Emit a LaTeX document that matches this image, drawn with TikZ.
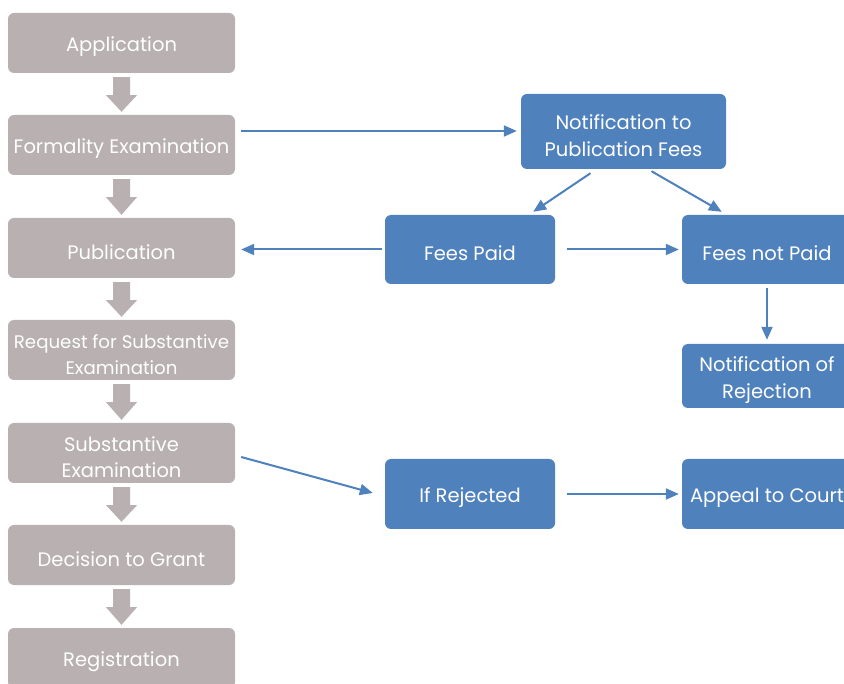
\documentclass[tikz,border=0pt]{standalone}
\usepackage{fontspec}
\setmainfont{Poppins}
\usetikzlibrary{arrows.meta,calc}
\definecolor{greybox}{RGB}{184,176,177}
\definecolor{bluebox}{RGB}{79,129,189}
\newcommand{\firststrut}{\rule{0pt}{23pt}}
\begin{document}
\begin{tikzpicture}[x=1pt,y=-1pt,
  boxbase/.style={rounded corners=6pt,inner sep=0pt,text=white,font=\fontsize{19.5}{26.5}\selectfont,align=center},
  gbox/.style={boxbase,fill=greybox,minimum width=227pt,minimum height=60pt},
  bbox/.style={boxbase,fill=bluebox,minimum width=170pt,minimum height=69pt},
  conn/.style={draw=bluebox,line width=2pt,-{Triangle[length=13pt,width=11pt]}}]
\useasboundingbox (0,0) rectangle (844,684);
\clip (0,0) rectangle (844,684);
\fill[white] (0,0) rectangle (844,684);
% grey column
\node[gbox] (app) at (121.5,43) {\firststrut Application};
\node[gbox] (form) at (121.5,145) {\firststrut Formality Examination};
\node[gbox] (pub) at (121.5,248) {\firststrut Publication};
\node[gbox,font=\fontsize{18.2}{26.5}\selectfont] (req) at (121.5,350) {\firststrut Request for Substantive\\Examination};
\node[gbox] (sub) at (121.5,453) {\firststrut Substantive\\Examination};
\node[gbox] (dec) at (121.5,555) {\firststrut Decision to Grant};
\node[gbox] (reg) at (121.5,658) {\firststrut Registration};
% block arrows
\foreach \a/\b in {app/form,form/pub,pub/req,req/sub,sub/dec,dec/reg}{
  \fill[greybox] ($(\a.south)+(-8.5,4)$) -- ($(\a.south)+(8.5,4)$) -- ($(\a.south)+(8.5,22)$)
    -- ($(\a.south)+(15.5,22)$) -- ($(\b.north)+(0,-3)$) -- ($(\a.south)+(-15.5,22)$)
    -- ($(\a.south)+(-8.5,22)$) -- cycle;
}
% blue boxes
\node[bbox,minimum width=205pt,minimum height=75pt] (notif) at (623.5,131.5) {\firststrut Notification to\\Publication Fees};
\node[bbox] (paid) at (470,249.5) {\firststrut Fees Paid};
\node[bbox] (notpaid) at (767,249.5) {\firststrut Fees not Paid};
\node[bbox,minimum height=64pt] (rej) at (767,376) {\firststrut Notification of\\Rejection};
\node[bbox,minimum height=70pt] (ifrej) at (470,494) {\firststrut If Rejected};
\node[bbox,minimum height=70pt] (court) at (767,494) {\firststrut Appeal to Court};
% connectors
\coordinate (f1) at (241,131);
\coordinate (f2) at ($(notif.west |- f1)+(-4,0)$);
\draw[conn] (f1) -- (f2);
\draw[conn] ($(notif.south)+(-33,4)$) -- ($(paid.north east)+(-22,-3)$);
\draw[conn] ($(notif.south)+(28,2)$) -- ($(notpaid.north west)+(40,-3)$);
\coordinate (p1) at ($(paid.west)+(-3,0)$);
\coordinate (p2) at ($(pub.east |- p1)+(6,0)$);
\draw[conn] (p1) -- (p2);
\draw[conn] ($(paid.east)+(12,0)$) -- ($(notpaid.west)+(-3,0)$);
\draw[conn] ($(notpaid.south)+(0,4)$) -- ($(rej.north)+(0,-4)$);
\draw[conn] ($(sub.east)+(6,4)$) -- ($(ifrej.west)+(-12,-1)$);
\draw[conn] ($(ifrej.east)+(12,0)$) -- ($(court.west)+(-3,0)$);
\end{tikzpicture}
\end{document}
